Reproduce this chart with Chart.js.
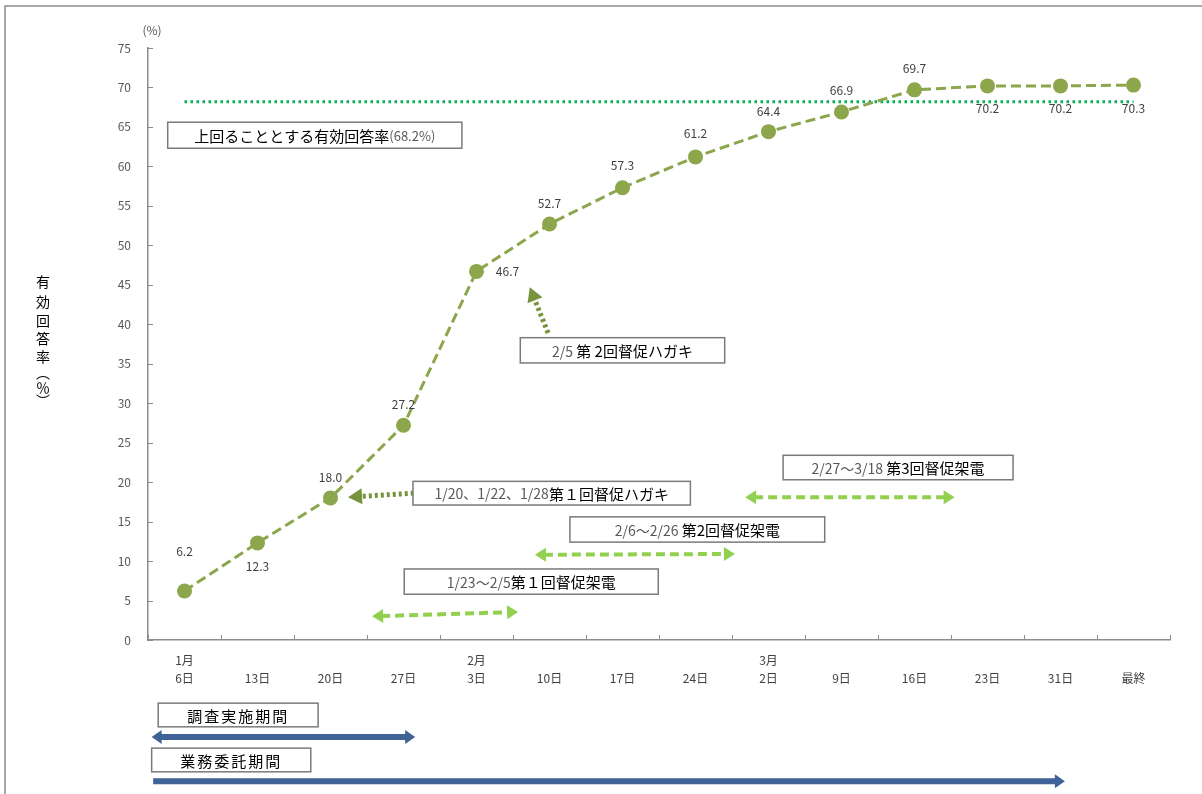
<!DOCTYPE html>
<html lang="ja">
<head>
<meta charset="utf-8">
<title>有効回答率の推移</title>
<script src="https://cdn.jsdelivr.net/npm/chart.js@4.4.1/dist/chart.umd.min.js"></script>
<style>
  html, body { margin: 0; padding: 0; background: #fff; }
  #chart { display: block; }
</style>
</head>
<body>
<canvas id="chart" width="1202" height="794"></canvas>
<script>
// 横軸：月と日（2段表示）
const monthLabels = ['1月', '', '', '', '2月', '', '', '', '3月', '', '', '', '', ''];
const dayLabels = ['6日', '13日', '20日', '27日', '3日', '10日', '17日', '24日', '2日', '9日', '16日', '23日', '31日', '最終'];

// 有効回答率（％）
const responseRate = [6.2, 12.3, 18.0, 27.2, 46.7, 52.7, 57.3, 61.2, 64.4, 66.9, 69.7, 70.2, 70.2, 70.3];

// 上回ることとする有効回答率
const targetRate = 68.2;

// 縦軸
const yMin = 0;
const yMax = 75;
const yStep = 5;

// 督促架電の期間（横位置はカテゴリ番号、縦は％）
const callArrows = [
    { x1: 2.57, y1: 3.0, x2: 4.57, y2: 3.55 },
    { x1: 4.80, y1: 10.8, x2: 7.54, y2: 10.9 },
    { x1: 7.68, y1: 18.1, x2: 10.55, y2: 18.1 }
];

// 督促ハガキの矢印
const postcardArrows = [
    { x1: 3.14, y1: 18.6, x2: 2.24, y2: 18.1 },
    { x1: 4.98, y1: 38.9, x2: 4.73, y2: 44.7 }
];

// 期間の矢印（調査実施期間・業務委託期間）
const periodArrows = [
    { x1: -0.45, x2: 3.16, y: -12.3, both: true },
    { x1: -0.43, x2: 12.06, y: -17.9, both: false }
];

// 吹き出し枠 [左, 上, 右, 下] と文字
const noteBoxes = [
    { box: [-0.23, 65.6, 3.80, 62.3], parts: [['上回ることとする有効回答率', '#000', 15], ['(68.2%)', '#595959', 13]] },
    { box: [4.60, 38.3, 7.40, 35.1], parts: [['2/5 ', '#595959', 14], ['第 2回督促ハガキ', '#000', 15]] },
    { box: [3.13, 20.1, 6.93, 17.1], parts: [['1/20、1/22、1/28', '#595959', 14], ['第１回督促ハガキ', '#000', 15]] },
    { box: [8.20, 23.4, 11.35, 20.3], parts: [['2/27～3/18 ', '#595959', 14], ['第3回督促架電', '#000', 15]] },
    { box: [5.28, 15.6, 8.77, 12.4], parts: [['2/6～2/26 ', '#595959', 14], ['第2回督促架電', '#000', 15]] },
    { box: [3.01, 9.0, 6.49, 5.8], parts: [['1/23～2/5', '#595959', 14], ['第１回督促架電', '#000', 15]] },
    { box: [-0.36, -8.0, 1.83, -11.0], parts: [['調査実施期間', '#000', 15]], spacing: 2 },
    { box: [-0.45, -13.7, 1.73, -16.7], parts: [['業務委託期間', '#000', 15]], spacing: 2 }
];

// データラベルのずらし量（px）
const labelShift = [[0, -40], [0, 24], [0, -20], [0, -21], [31, 0], [0, -21], [0, -22], [0, -23],
                    [0, -20], [0, -21], [0, -21], [0, 23], [0, 23], [0, 23]];

const FONT = "'Noto Sans CJK JP', 'Noto Sans', sans-serif";

function arrowHead(ctx, fx, fy, tx, ty, len, half, color) {
    const a = Math.atan2(ty - fy, tx - fx);
    ctx.save();
    ctx.setLineDash([]);
    ctx.fillStyle = color;
    ctx.beginPath();
    ctx.moveTo(tx, ty);
    ctx.lineTo(tx - len * Math.cos(a) + half * Math.sin(a), ty - len * Math.sin(a) - half * Math.cos(a));
    ctx.lineTo(tx - len * Math.cos(a) - half * Math.sin(a), ty - len * Math.sin(a) + half * Math.cos(a));
    ctx.closePath();
    ctx.fill();
    ctx.restore();
}

const decorPlugin = {
    id: 'decor',
    afterDatasetsDraw(chart) {
        const ctx = chart.ctx;
        const meta = chart.getDatasetMeta(0);
        ctx.save();
        ctx.font = '12px ' + FONT;
        ctx.fillStyle = '#404040';
        ctx.textAlign = 'center';
        ctx.textBaseline = 'middle';
        meta.data.forEach((pt, i) => {
            const s = labelShift[i];
            ctx.fillText(responseRate[i].toFixed(1), pt.x + s[0], pt.y + s[1]);
        });
        ctx.restore();
    },
    afterDraw(chart) {
        const ctx = chart.ctx;
        const xs = chart.scales.x;
        const ys = chart.scales.y;
        const px = v => xs.getPixelForValue(v);
        const py = v => ys.getPixelForValue(v);
        const area = chart.chartArea;

        ctx.save();

        // 外枠
        ctx.strokeStyle = '#8c8c8c';
        ctx.lineWidth = 1.5;
        ctx.beginPath();
        ctx.moveTo(5, 794);
        ctx.lineTo(5, 6);
        ctx.lineTo(1202, 6);
        ctx.stroke();

        // 目盛り（内向き）
        ctx.strokeStyle = '#8c8c8c';
        ctx.lineWidth = 1;
        ys.ticks.forEach(t => {
            const y = Math.round(py(t.value)) + 0.5;
            ctx.beginPath();
            ctx.moveTo(area.left, y);
            ctx.lineTo(area.left + 5, y);
            ctx.stroke();
        });
        for (let i = 0; i <= dayLabels.length; i++) {
            const x = Math.round(px(i - 0.5)) + 0.5;
            ctx.beginPath();
            ctx.moveTo(x, area.bottom);
            ctx.lineTo(x, area.bottom - 5);
            ctx.stroke();
        }

        // (%)
        ctx.font = '12px ' + FONT;
        ctx.fillStyle = '#595959';
        ctx.textAlign = 'center';
        ctx.textBaseline = 'middle';
        ctx.fillText('(%)', area.left + 4, 30);

        // 縦軸タイトル（縦書き）
        const titleChars = ['有', '効', '回', '答', '率', '︵', '％', '︶'];
        const titleY = [282, 302, 321, 339, 357, 373, 388, 401];
        ctx.font = '14px ' + FONT;
        ctx.fillStyle = '#000';
        titleChars.forEach((c, i) => ctx.fillText(c, 43, titleY[i]));

        // 督促架電（薄緑の破線矢印）
        const callColor = '#92d050';
        callArrows.forEach(a => {
            const x1 = px(a.x1), y1 = py(a.y1), x2 = px(a.x2), y2 = py(a.y2);
            const ang = Math.atan2(y2 - y1, x2 - x1);
            ctx.strokeStyle = callColor;
            ctx.lineWidth = 4;
            ctx.setLineDash([9, 5]);
            ctx.beginPath();
            ctx.moveTo(x1 + 9 * Math.cos(ang), y1 + 9 * Math.sin(ang));
            ctx.lineTo(x2 - 9 * Math.cos(ang), y2 - 9 * Math.sin(ang));
            ctx.stroke();
            arrowHead(ctx, x1 + 20 * Math.cos(ang), y1 + 20 * Math.sin(ang), x1, y1, 11, 7, callColor);
            arrowHead(ctx, x2 - 20 * Math.cos(ang), y2 - 20 * Math.sin(ang), x2, y2, 11, 7, callColor);
        });

        // 督促ハガキ（濃緑の点線矢印）
        const cardColor = '#77933c';
        postcardArrows.forEach(a => {
            const x1 = px(a.x1), y1 = py(a.y1), x2 = px(a.x2), y2 = py(a.y2);
            const ang = Math.atan2(y2 - y1, x2 - x1);
            ctx.strokeStyle = cardColor;
            ctx.lineWidth = 5;
            ctx.setLineDash([3, 3]);
            ctx.beginPath();
            ctx.moveTo(x1, y1);
            ctx.lineTo(x2 - 12 * Math.cos(ang), y2 - 12 * Math.sin(ang));
            ctx.stroke();
            arrowHead(ctx, x1, y1, x2, y2, 14, 8, cardColor);
        });

        // 期間（紺色の矢印）
        const periodColor = '#3f6397';
        periodArrows.forEach(a => {
            const x1 = px(a.x1), x2 = px(a.x2), y = py(a.y);
            ctx.setLineDash([]);
            ctx.strokeStyle = periodColor;
            ctx.lineWidth = 6;
            ctx.beginPath();
            ctx.moveTo(a.both ? x1 + 6 : x1, y);
            ctx.lineTo(x2 - 6, y);
            ctx.stroke();
            arrowHead(ctx, x2 - 10, y, x2, y, 10, 7, periodColor);
            if (a.both) arrowHead(ctx, x1 + 10, y, x1, y, 10, 7, periodColor);
        });

        // 吹き出し
        ctx.setLineDash([]);
        noteBoxes.forEach(n => {
            const l = px(n.box[0]), t = py(n.box[1]), r = px(n.box[2]), b = py(n.box[3]);
            ctx.fillStyle = '#fff';
            ctx.fillRect(l, t, r - l, b - t);
            ctx.strokeStyle = '#7a7a7a';
            ctx.lineWidth = 1.5;
            ctx.strokeRect(l, t, r - l, b - t);
            ctx.letterSpacing = (n.spacing || 0) + 'px';
            let total = 0;
            n.parts.forEach(p => { ctx.font = p[2] + 'px ' + FONT; total += ctx.measureText(p[0]).width; });
            let x = (l + r) / 2 - total / 2;
            const y = (t + b) / 2 + 1;
            ctx.textAlign = 'left';
            ctx.textBaseline = 'middle';
            n.parts.forEach(p => {
                ctx.font = p[2] + 'px ' + FONT;
                ctx.fillStyle = p[1];
                ctx.fillText(p[0], x, y);
                x += ctx.measureText(p[0]).width;
            });
            ctx.letterSpacing = '0px';
        });

        ctx.restore();
    }
};

new Chart(document.getElementById('chart'), {
    type: 'line',
    data: {
        labels: dayLabels.map((d, i) => [monthLabels[i], d]),
        datasets: [
            {
                label: '有効回答率',
                data: responseRate,
                borderColor: '#8ca64b',
                backgroundColor: '#8ca64b',
                borderWidth: 3,
                borderDash: [10, 5],
                pointRadius: 7.5,
                pointBorderWidth: 0,
                pointBackgroundColor: '#8ca64b',
                tension: 0
            },
            {
                label: '上回ることとする有効回答率',
                data: responseRate.map(() => targetRate),
                borderColor: '#00b050',
                borderWidth: 3,
                borderDash: [2.5, 3.5],
                pointRadius: 0,
                tension: 0
            }
        ]
    },
    options: {
        responsive: false,
        animation: false,
        layout: { padding: { left: 0, right: 32, top: 48, bottom: 0 } },
        plugins: {
            legend: { display: false },
            tooltip: { enabled: false }
        },
        scales: {
            x: {
                offset: true,
                grid: { display: false, drawTicks: false },
                border: { display: true, color: '#8c8c8c', width: 1.5 },
                ticks: {
                    autoSkip: false,
                    maxRotation: 0,
                    padding: 11,
                    color: '#404040',
                    font: { family: FONT, size: 12, lineHeight: 1.5 }
                },
                afterFit: s => { s.height = 154; }
            },
            y: {
                min: yMin,
                max: yMax,
                grid: { display: false, drawTicks: false },
                border: { display: true, color: '#8c8c8c', width: 1.5 },
                ticks: {
                    stepSize: yStep,
                    padding: 17,
                    color: '#595959',
                    font: { family: FONT, size: 12 }
                },
                afterFit: s => { s.width = 148; }
            }
        }
    },
    plugins: [decorPlugin]
});
</script>
</body>
</html>
